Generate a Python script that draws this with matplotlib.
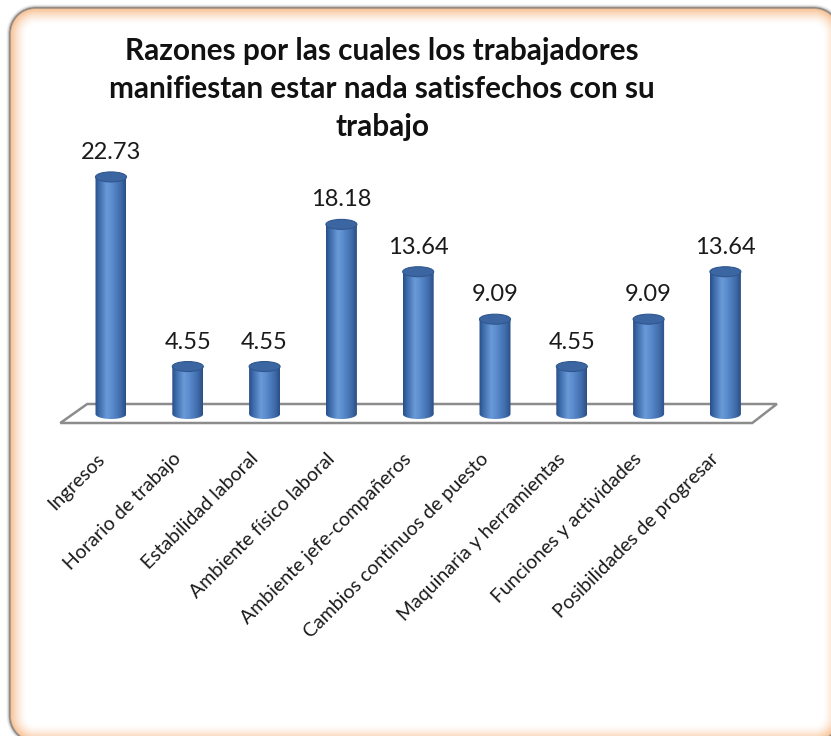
import numpy as np
import matplotlib
matplotlib.use("Agg")
import matplotlib.pyplot as plt
from matplotlib.path import Path
from matplotlib.patches import PathPatch, Ellipse, Polygon
from matplotlib.colors import LinearSegmentedColormap

# ---- data ----
categorias = [
    "Ingresos",
    "Horario de trabajo",
    "Estabilidad laboral",
    "Ambiente físico laboral",
    "Ambiente jefe-compañeros",
    "Cambios continuos de puesto",
    "Maquinaria y herramientas",
    "Funciones y actividades",
    "Posibilidades de progresar",
]
porcentajes = [22.73, 4.55, 4.55, 18.18, 13.64, 9.09, 4.55, 9.09, 13.64]
titulo = ("Razones por las cuales los trabajadores\n"
          "manifiestan estar nada satisfechos con su\n"
          "trabajo")

FONT = ["Lato", "DejaVu Sans"]
plt.rcParams["font.family"] = FONT

W, H, DPI = 831, 736, 100
fig = plt.figure(figsize=(W / DPI, H / DPI), dpi=DPI)
fig.patch.set_facecolor("white")

# ---- rounded frame with an inner orange glow ----
bg = fig.add_axes([0, 0, 1, 1], zorder=0)
bg.axis("off")
yy, xx = np.mgrid[0:H, 0:W] + 0.5
fx0, fy0, fx1, fy1, rad = 9.5, 7.5, 840, 742, 26
cx, cy = (fx0 + fx1) / 2, (fy0 + fy1) / 2
hx, hy = (fx1 - fx0) / 2, (fy1 - fy0) / 2
qx = np.abs(xx - cx) - (hx - rad)
qy = np.abs(yy - cy) - (hy - rad)
sdf = (np.hypot(np.maximum(qx, 0), np.maximum(qy, 0))
       + np.minimum(np.maximum(qx, qy), 0) - rad)

orange = np.array([247, 186, 136]) / 255
gray = np.array([128, 128, 128]) / 255
img = np.ones((H, W, 3))
depth = np.clip(-sdf, 0, None)
glow = np.clip(1 - depth / 17.0, 0, 1) ** 1.5
glow[sdf > 0] = 0
img = img * (1 - glow[..., None]) + orange * glow[..., None]
edge = np.clip(1 - np.abs(sdf + 0.3) / 1.6, 0, 1)
img = img * (1 - edge[..., None]) + gray * edge[..., None]
shadow = np.where(sdf > 0, np.clip(1 - (sdf - 0.8) / 2.5, 0, 1) * 0.35, 0)
img = img * (1 - shadow[..., None]) + gray * shadow[..., None]
bg.imshow(img, extent=(0, W, H, 0), interpolation="bilinear")
bg.set_xlim(0, W)
bg.set_ylim(H, 0)

# ---- chart axes (full figure, linear scales) ----
ax = fig.add_axes([0, 0, 1, 1], zorder=1)
ax.patch.set_alpha(0)
ax.axis("off")
px_x0, px_dx = 111.0, 76.8      # pixel x of first bar, pixel spacing of bars
px_y0, px_dy = 414.0, 10.43     # pixel y of the floor level, pixels per unit
ax.set_xlim(-px_x0 / px_dx, (W - px_x0) / px_dx)
ax.set_ylim((px_y0 - H) / px_dy, px_y0 / px_dy)
ax.set_autoscale_on(False)

n = len(porcentajes)
bar_w = 31 / px_dx
ell_h = 10 / px_dy

# floor
front_y, back_y = -9 / px_dy, 10 / px_dy
floor = Polygon([(-0.66, front_y), (n - 1 + 0.35, front_y),
                 (n - 1 + 0.67, back_y), (-0.31, back_y)],
                closed=True, facecolor="white", edgecolor="#8c8c8c",
                lw=1.8, zorder=1)
ax.add_patch(floor)

cyl_cmap = LinearSegmentedColormap.from_list(
    "cyl",
    [(0.0, "#294f86"), (0.12, "#3b69aa"), (0.38, "#6a9ad6"),
     (0.55, "#5b8cce"), (0.85, "#3e6aa8"), (1.0, "#2a4f85")])
grad = np.linspace(0, 1, 64)[None, :]

theta = np.linspace(np.pi, 2 * np.pi, 60)
for i, v in enumerate(porcentajes):
    x0, x1 = i - bar_w / 2, i + bar_w / 2
    arc = np.column_stack([i + bar_w / 2 * np.cos(theta),
                           ell_h / 2 * np.sin(theta)])
    verts = np.vstack([[x0, v], [x0, 0], arc, [x1, 0], [x1, v], [x0, v]])
    codes = [Path.MOVETO] + [Path.LINETO] * (len(verts) - 2) + [Path.CLOSEPOLY]
    body = PathPatch(Path(verts, codes), facecolor="none", edgecolor="none")
    ax.add_patch(body)
    im = ax.imshow(grad, cmap=cyl_cmap, aspect="auto",
                   extent=(x0, x1, -ell_h / 2, v), zorder=3,
                   interpolation="bilinear")
    im.set_clip_path(body)
    ax.add_patch(Ellipse((i, v), bar_w, ell_h, facecolor="#3b66a2",
                         edgecolor="#30578f", lw=0.8, zorder=4))
    ax.text(i, v + 2.35, f"{v:.2f}", ha="center", va="center",
            fontsize=17, color="#1a1a1a", zorder=5)

# category labels, rotated under each cylinder
lab_y = (px_y0 - 450) / px_dy
for i, name in enumerate(categorias):
    ax.text(i - 0.2, lab_y, name, rotation=45,
            rotation_mode="anchor", ha="right", va="top",
            fontsize=14, color="#1a1a1a", zorder=5)

fig.text(382 / W, 1 - 89 / H, titulo, ha="center", va="center",
         fontsize=21.4, fontweight="bold", linespacing=1.42,
         color="#111111")

fig.savefig("out.png", dpi=DPI, facecolor="white")
